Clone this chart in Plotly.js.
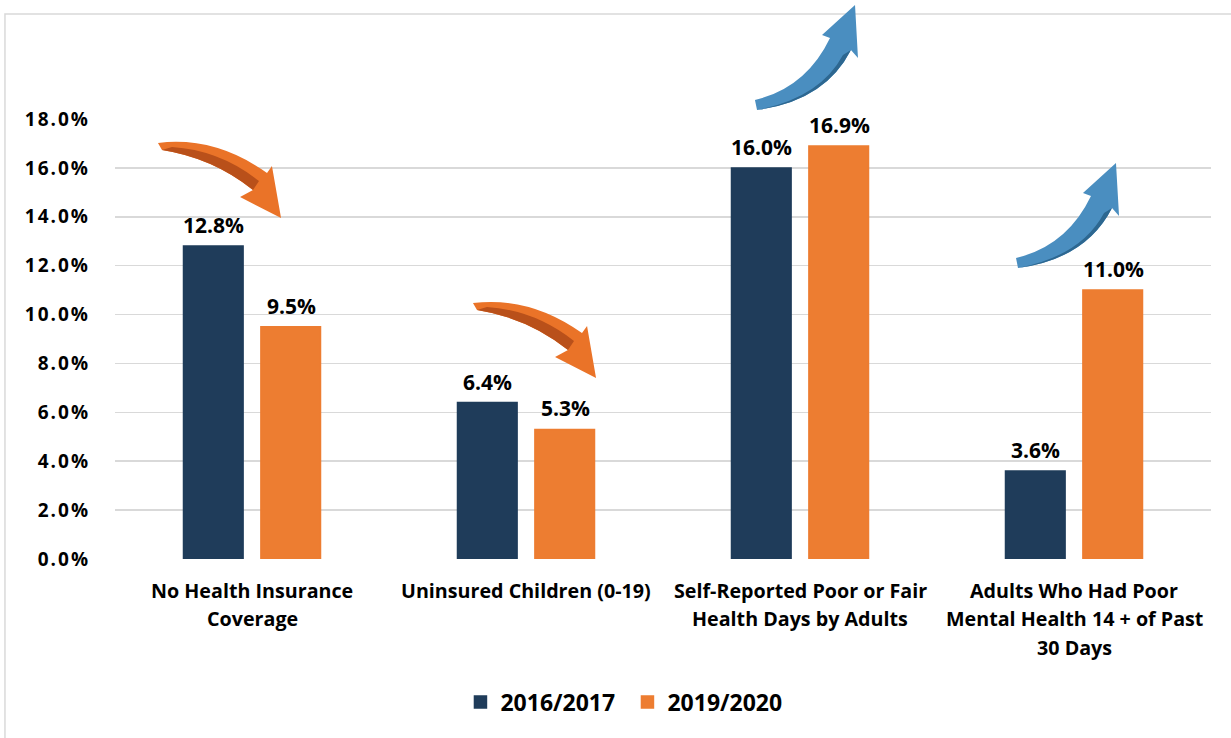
<!DOCTYPE html>
<html>
<head>
<meta charset="utf-8">
<script src="https://cdn.plot.ly/plotly-3.0.1.min.js"></script>
<style>
html,body{margin:0;padding:0;background:#fff;}
#chart{width:1231px;height:738px;}
#chart .ytick text{letter-spacing:2px;}
</style>
</head>
<body>
<div id="chart"></div>
<script>
const categories = [
  "No Health Insurance<br>Coverage",
  "Uninsured Children (0-19)",
  "Self-Reported Poor or Fair<br>Health Days by Adults",
  "Adults Who Had Poor<br>Mental Health 14 + of Past<br>30 Days"
];
const seriesNames = ["2016/2017", "2019/2020"];
const values2016 = [12.8, 6.4, 16.0, 3.6];
const values2020 = [9.5, 5.3, 16.9, 11.0];
const colors = ["#1F3C5A", "#ED7D31"];

const W = 1231, H = 738;
const M = {l: 115, r: 20, t: 119, b: 179};
const PW = W - M.l - M.r, PH = H - M.t - M.b;
function px(x){ return ((x - M.l) / PW).toFixed(4); }
function py(y){ return ((H - M.b - y) / PH).toFixed(4); }
function pathFrom(cmds, dx, dy){
  return cmds.map(c => {
    if (typeof c === 'string') return c;
    return px(c[0] + dx) + ',' + py(c[1] + dy);
  }).join(' ');
}
// decorative arrows (pixel templates)
const downMain = ['M',[158,143],'Q',[215,136],[267,173],'L',[272,166],'L',[281,218],'L',[240,197],'L',[253,190],'Q',[213,158],[162,150],'Z'];
const downShade = ['M',[172,147],'Q',[220,150],[259,181],'L',[253,190],'Q',[213,158],[162,150],'Z'];
const upMain = ['M',[755,100],'Q',[806,88],[830,38],'L',[822,35],'L',[855,5],'L',[858,58],'L',[851,50],'Q',[825,101],[757,110],'Z'];
const upShade = ['M',[757,110],'Q',[820,98],[843,55],'L',[851,50],'Q',[825,101],[757,110],'Z'];

const arrows = [
  {t: downMain, s: downShade, dx: 0, dy: 0, c: '#EA7328', sc: '#B9501A'},
  {t: downMain, s: downShade, dx: 315, dy: 160, c: '#EA7328', sc: '#B9501A'},
  {t: upMain, s: upShade, dx: 0, dy: 0, c: '#4A8EC0', sc: '#2D6790'},
  {t: upMain, s: upShade, dx: 261, dy: 158, c: '#4A8EC0', sc: '#2D6790'}
];
const shapes = [
  {type:'path', xref:'paper', yref:'paper', path: pathFrom(['M',[5,760],'L',[5,14],'L',[1240,14]],0,0), line:{color:'#D9D9D9', width:1.5}, layer:'below'}
];
arrows.forEach(a => {
  shapes.push({type:'path', xref:'paper', yref:'paper', path: pathFrom(a.t, a.dx, a.dy), fillcolor: a.c, line:{width:0}});
  shapes.push({type:'path', xref:'paper', yref:'paper', path: pathFrom(a.s, a.dx, a.dy), fillcolor: a.sc, line:{width:0}});
});

const font = "'Open Sans', Lato, sans-serif";
const annotations = [];
// value labels
[values2016, values2020].forEach((vals, si) => {
  vals.forEach((v, i) => {
    annotations.push({
      x: categories[i], y: v, xref: 'x', yref: 'y',
      text: '<b>' + v.toFixed(1) + '%</b>', showarrow: false,
      xanchor: 'center', yanchor: 'bottom', yshift: 5,
      xshift: si === 0 ? -39 : 39,
      font: {family: font, size: 21, color: '#000'}
    });
  });
});
// category labels, one annotation per line
categories.forEach(cat => {
  cat.split('<br>').forEach((line, k) => {
    annotations.push({
      x: cat, y: 0, xref: 'x', yref: 'paper',
      text: '<b>' + line + '</b>', showarrow: false,
      xanchor: 'center', yanchor: 'middle', yshift: -31 - k * 28.5,
      font: {family: font, size: 19.7, color: '#000'}
    });
  });
});

const traces = [values2016, values2020].map((vals, si) => ({
  type: 'bar', x: categories, y: vals, name: '<b>' + seriesNames[si] + '</b>',
  marker: {color: colors[si], line: {color: colors[si], width: 1.5}}, hoverinfo: 'skip'
}));

const layout = {
  width: W, height: H,
  margin: M,
  paper_bgcolor: '#fff', plot_bgcolor: '#fff',
  barmode: 'group', bargap: 0.435, bargroupgap: 0.23,
  showlegend: true,
  legend: {orientation: 'h', x: 0.3152, xanchor: 'left', y: -0.325, yanchor: 'middle',
    font: {family: font, size: 23, color: '#000'}, itemwidth: 30, tracegroupgap: 0,
    entrywidth: 122, entrywidthmode: 'pixels'},
  xaxis: {showticklabels: false, showgrid: false, showline: false, ticks: '', automargin: false},
  yaxis: {range: [0, 18], dtick: 2, tickformat: '.1f', ticksuffix: '%', showgrid: true, gridcolor: '#D9D9D9', gridwidth: 1.5,
    zeroline: false, showline: false, ticks: '', ticklabelstandoff: 24,
    tickfont: {family: font, size: 19, color: '#000', weight: 'bold'}, automargin: false},
  font: {family: font, color: '#000', weight: 'bold'},
  shapes: shapes,
  annotations: annotations
};
Plotly.newPlot('chart', traces, layout, {displayModeBar: false, staticPlot: true});
</script>
</body>
</html>
